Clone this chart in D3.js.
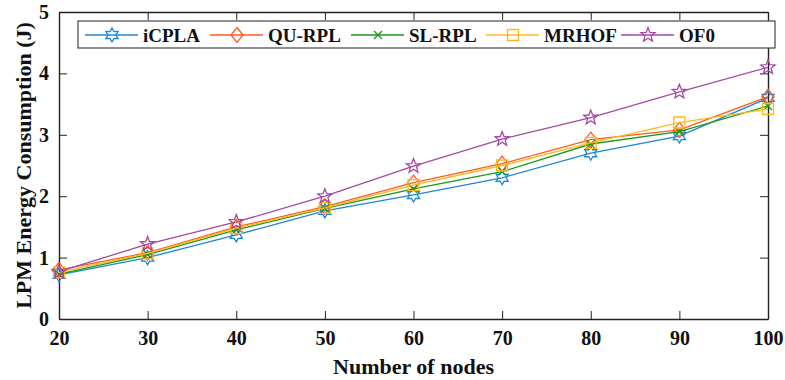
<!DOCTYPE html>
<html>
<head>
<meta charset="utf-8">
<script src="https://cdn.jsdelivr.net/npm/d3@7/dist/d3.min.js"></script>
<style>
body { margin: 0; background: #fff; }
text { font-family: "Liberation Serif", "Times New Roman", serif; font-weight: bold; }
</style>
</head>
<body>
<div id="chart"></div>
<script>
var nodes = [20, 30, 40, 50, 60, 70, 80, 90, 100];
var yTicks = [0, 1, 2, 3, 4, 5];

var icpla = [0.72, 1.00, 1.37, 1.76, 2.02, 2.30, 2.70, 2.98, 3.60];
var quRpl = [0.80, 1.08, 1.50, 1.83, 2.22, 2.53, 2.92, 3.08, 3.62];
var slRpl = [0.73, 1.05, 1.45, 1.80, 2.12, 2.40, 2.85, 3.05, 3.47];
var mrhof = [0.76, 1.07, 1.48, 1.81, 2.18, 2.50, 2.87, 3.20, 3.42];
var of0   = [0.77, 1.22, 1.58, 2.00, 2.49, 2.93, 3.28, 3.70, 4.10];

var series = [
    {name: "iCPLA", values: icpla, color: "#1f86d4", marker: "hexagram"},
    {name: "QU-RPL", values: quRpl, color: "#ff5a1f", marker: "diamond"},
    {name: "SL-RPL", values: slRpl, color: "#1a9a1a", marker: "cross"},
    {name: "MRHOF", values: mrhof, color: "#ffb81c", marker: "square"},
    {name: "OF0", values: of0, color: "#a448a4", marker: "pentagram"}
];

var svg = d3.select("#chart").append("svg")
    .attr("width", 785)
    .attr("height", 380);

var margin = { top: 12, right: 17, bottom: 61, left: 59 },
    width = 785 - margin.left - margin.right,
    height = 380 - margin.top - margin.bottom,
    g = svg.append("g").attr("transform", "translate(" + margin.left + "," + margin.top + ")");

var x = d3.scaleLinear().domain([20, 100]).range([0, width]);
var y = d3.scaleLinear().domain([0, 5]).range([height, 0]);

function starPath(points, r, ri) {
    var p = [];
    for (var i = 0; i < points * 2; i++) {
        var a = -Math.PI / 2 + i * Math.PI / points;
        var rr = i % 2 == 0 ? r : ri;
        p.push([rr * Math.cos(a), rr * Math.sin(a)]);
    }
    return "M" + p.join("L") + "Z";
}

function markerPath(type) {
    if (type == "hexagram") return starPath(6, 7, 4);
    if (type == "pentagram") return starPath(5, 7.5, 3.2);
    if (type == "diamond") return "M0,-7.5L6,0L0,7.5L-6,0Z";
    if (type == "square") return "M-5.5,-5.5L5.5,-5.5L5.5,5.5L-5.5,5.5Z";
    if (type == "cross") return "M-4,-4L4,4M-4,4L4,-4";
}

// axes
var tickLen = 8;
g.append("g")
    .attr("transform", "translate(0," + height + ")")
    .call(d3.axisBottom(x).tickValues(nodes).tickSizeInner(-tickLen).tickSizeOuter(0).tickPadding(12))
    .call(function(a) { a.selectAll("text").attr("font-size", 20).attr("fill", "#111"); });
g.append("g")
    .call(d3.axisTop(x).tickValues(nodes).tickSizeInner(-tickLen).tickSizeOuter(0).tickFormat(""));
g.append("g")
    .call(d3.axisLeft(y).tickValues(yTicks).tickFormat(d3.format("d")).tickSizeInner(-tickLen).tickSizeOuter(0).tickPadding(10))
    .call(function(a) { a.selectAll("text").attr("font-size", 20).attr("fill", "#111"); });
g.append("g")
    .attr("transform", "translate(" + width + ",0)")
    .call(d3.axisRight(y).tickValues(yTicks).tickSizeInner(-tickLen).tickSizeOuter(0).tickFormat(""));
g.selectAll(".domain, .tick line").attr("stroke", "#222").attr("stroke-width", 1.4);
g.selectAll(".tick line").attr("stroke-width", 1);

// series
var line = d3.line()
    .x(function(d, i) { return x(nodes[i]); })
    .y(function(d) { return y(d); });

series.forEach(function(s) {
    g.append("path")
        .datum(s.values)
        .attr("fill", "none")
        .attr("stroke", s.color)
        .attr("stroke-width", 1.3)
        .attr("d", line);
    g.selectAll(null)
        .data(s.values)
        .enter()
        .append("path")
        .attr("transform", function(d, i) { return "translate(" + x(nodes[i]) + "," + y(d) + ")"; })
        .attr("d", markerPath(s.marker))
        .attr("fill", "none")
        .attr("stroke", s.color)
        .attr("stroke-width", 1.3);
});

// legend
var legend = svg.append("g");
legend.append("rect")
    .attr("x", 78).attr("y", 21)
    .attr("width", 697).attr("height", 27)
    .attr("fill", "#fff")
    .attr("stroke", "#444")
    .attr("stroke-width", 1.2);
var lx = [85, 210, 351, 486, 621];
series.forEach(function(s, i) {
    var e = legend.append("g").attr("transform", "translate(" + lx[i] + ",35)");
    e.append("line").attr("x1", 0).attr("x2", 53).attr("stroke", s.color).attr("stroke-width", 1.3);
    e.append("path").attr("transform", "translate(27,0)").attr("d", markerPath(s.marker))
        .attr("fill", "none").attr("stroke", s.color).attr("stroke-width", 1.3);
    e.append("text").attr("x", 58).attr("y", 6.5).attr("font-size", 19).attr("fill", "#111").text(s.name);
});

// axis titles
svg.append("text")
    .attr("x", margin.left + width / 2)
    .attr("y", 374)
    .attr("text-anchor", "middle")
    .attr("font-size", 22)
    .attr("fill", "#111")
    .text("Number of nodes");
svg.append("text")
    .attr("transform", "translate(31," + (margin.top + height / 2) + ") rotate(-90)")
    .attr("text-anchor", "middle")
    .attr("font-size", 22)
    .attr("fill", "#111")
    .text("LPM Energy Consumption (J)");
</script>
</body>
</html>
